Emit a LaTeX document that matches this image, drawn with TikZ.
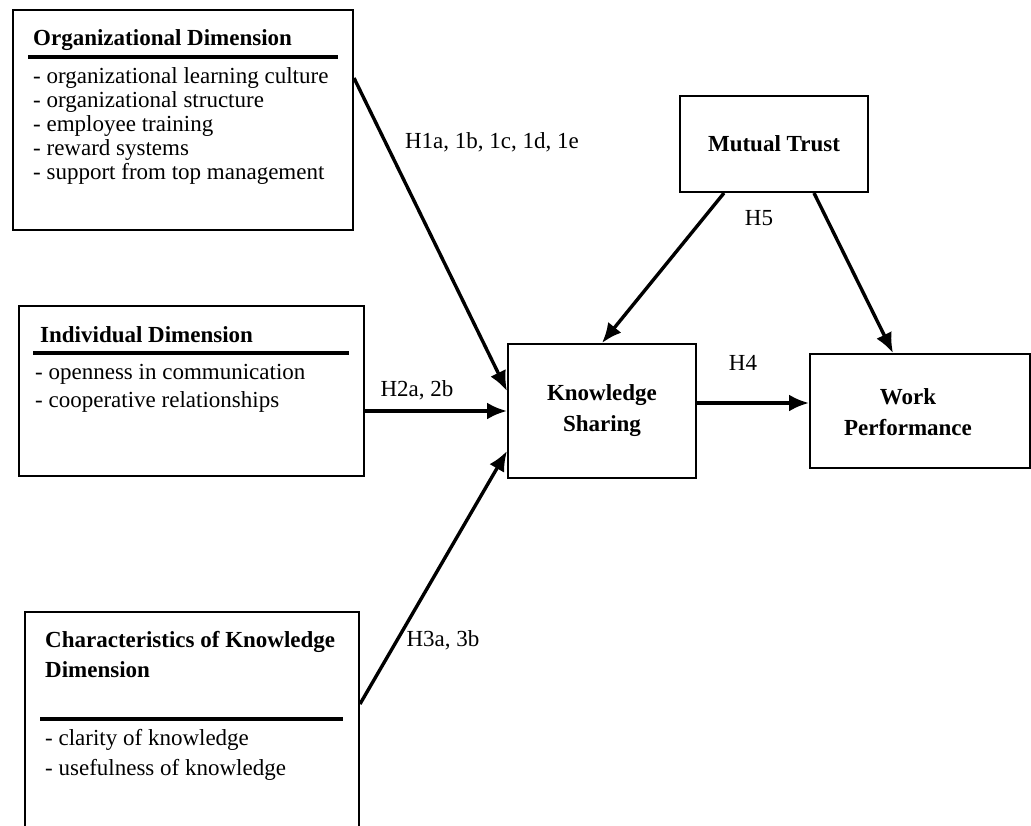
\documentclass[tikz,border=0pt]{standalone}
\usepackage{fontspec}
\setmainfont{Liberation Serif}
\usetikzlibrary{arrows.meta,positioning}

\tikzset{
  dimbox/.style={draw, line width=2pt, rectangle, inner sep=0pt, anchor=north west},
  mainbox/.style={draw, line width=2pt, rectangle, inner sep=0pt, anchor=north west,
    font=\fontsize{23}{31}\selectfont\bfseries, align=center},
  dimtitle/.style={anchor=base west, inner sep=0pt, font=\fontsize{23}{30}\selectfont\bfseries},
  item/.style={anchor=base west, inner sep=0pt, font=\fontsize{23}{28}\selectfont},
  hyp/.style={inner sep=0pt, font=\fontsize{23}{28}\selectfont},
  rule/.style={line width=4.5pt},
  link/.style={line width=3.4pt, -{Latex[length=20pt,width=17pt]}}
}

\begin{document}
\begin{tikzpicture}[x=1pt,y=-1pt]
      \useasboundingbox (0,0) rectangle (1031,825);
      \clip (0,0) rectangle (1031,825);

      % dimension boxes
      \node[dimbox, minimum width=340pt, minimum height=220pt] (org) at (12,9) {};
      \node[dimtitle] (orgtitle) at (33,45) {Organizational Dimension};
      \draw[rule] (28,57) -- (338,57);
      \foreach \t [count=\i] in {organizational learning culture, organizational structure,
        employee training, reward systems, support from top management}
      \node[item] (org-\i) at (33,{59+24*\i}) {- \t};

      \node[dimbox, minimum width=345pt, minimum height=170pt] (indiv) at (18,305) {};
      \node[dimtitle] (indivtitle) at (40,342) {Individual Dimension};
      \draw[rule] (33,353) -- (349,353);
      \foreach \t [count=\i] in {openness in communication, cooperative relationships}
      \node[item] (indiv-\i) at (35,{351+28*\i}) {- \t};

      \node[dimbox, minimum width=334pt, minimum height=240pt] (char) at (24,611) {};
      \node[dimtitle] (chartitle) at (45,647) {Characteristics of Knowledge};
      \node[dimtitle] (chartitle2) at (45,677) {Dimension};
      \draw[rule] (40,719) -- (343,719);
      \foreach \t [count=\i] in {clarity of knowledge, usefulness of knowledge}
      \node[item] (char-\i) at (45,{715+30*\i}) {- \t};

      % main constructs
      \node[mainbox, minimum width=188pt, minimum height=134pt] (ks) at (507,343) {Knowledge\\Sharing};
      \node[mainbox, minimum width=188pt, minimum height=96pt] (mt) at (679,95) {Mutual Trust};
      \node[mainbox, minimum width=220pt, minimum height=114pt] (wp) at (809,353) {};
      \node[mainbox, draw=none, anchor=center] (wptext) at (908,412) {Work\\Performance};

      % hypotheses
      \coordinate (ksout) at ([yshift=8pt]ks.east);
      \draw[link] ([yshift=42pt]org.east) -- ([yshift=20pt]ks.west);
      \draw[link] (indiv.east |- ks.west) -- (ks.west);
      \draw[link] ([yshift=28pt]char.east) -- ([yshift=-40pt]ks.west);
      \draw[link] ([xshift=-50pt]mt.south) -- (ks.north);
      \draw[link] ([xshift=40pt]mt.south) -- ([xshift=-27pt]wp.north);
      \draw[link] (ksout) -- (wp.west |- ksout);

      \node[hyp] (h1) at (492,142) {H1a, 1b, 1c, 1d, 1e};
      \node[hyp] (h2) at (417,390) {H2a, 2b};
      \node[hyp] (h3) at (443,640) {H3a, 3b};
      \node[hyp] (h4) at (743,363) {H4};
      \node[hyp] (h5) at (759,218) {H5};
\end{tikzpicture}
\end{document}
